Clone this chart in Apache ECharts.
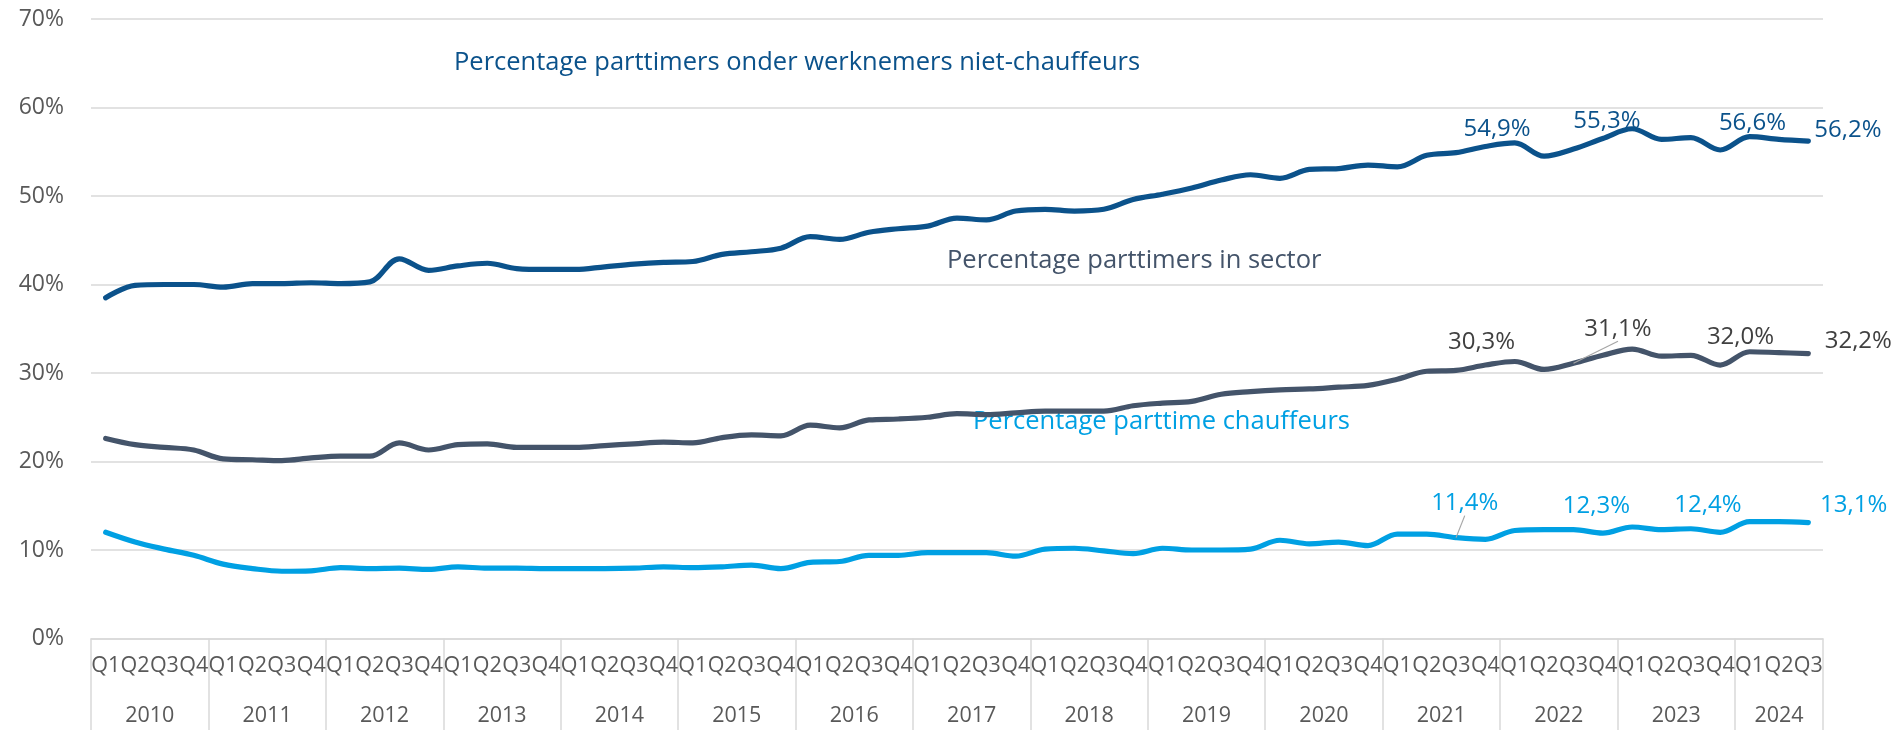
<!DOCTYPE html>
<html><head><meta charset="utf-8">
<script src="https://cdn.jsdelivr.net/npm/echarts@6/dist/echarts.min.js"></script>
<style>html,body{margin:0;padding:0;background:#fff}#c{width:1896px;height:730px}</style>
</head><body><div id="c"></div>
<script>
// ---------- DATA ----------
const years = ['2010','2011','2012','2013','2014','2015','2016','2017','2018','2019','2020','2021','2022','2023','2024'];
const quarterNames = ['Q1','Q2','Q3','Q4'];
const quartersPerYear = [4,4,4,4,4,4,4,4,4,4,4,4,4,4,3];
const yTicks = [0,10,20,30,40,50,60,70];

const nietChauffeurs = [
  38.5,39.9,40.0,40.0, 39.7,40.1,40.1,40.2, 40.1,40.3,42.9,41.6, 42.1,42.4,41.8,41.7,
  41.7,42.0,42.3,42.5, 42.6,43.4,43.7,44.1, 45.4,45.1,45.9,46.3, 46.6,47.5,47.3,48.3,
  48.5,48.3,48.5,49.6, 50.2,50.9,51.8,52.4, 52.0,53.0,53.1,53.5, 53.3,54.6,54.9,55.6,
  56.0,54.5,55.3,56.5, 57.6,56.4,56.6,55.2, 56.7,56.4,56.2
];
const sector = [
  22.6,21.9,21.6,21.3, 20.3,20.2,20.1,20.4, 20.6,20.6,22.1,21.3, 21.9,22.0,21.6,21.6,
  21.6,21.8,22.0,22.2, 22.1,22.7,23.0,22.9, 24.1,23.8,24.7,24.8, 25.0,25.4,25.3,25.5,
  25.7,25.7,25.7,26.3, 26.6,26.8,27.6,27.9, 28.1,28.2,28.4,28.6, 29.3,30.2,30.3,30.9,
  31.3,30.4,31.1,32.0, 32.7,31.9,32.0,30.9, 32.4,32.3,32.2
];
const chauffeurs = [
  12.0,10.9,10.1,9.4, 8.4,7.9,7.6,7.65, 8.0,7.9,7.95,7.8, 8.1,7.95,7.95,7.9,
  7.9,7.9,7.95,8.1, 8.0,8.1,8.3,7.9, 8.6,8.7,9.4,9.4, 9.7,9.7,9.7,9.3,
  10.1,10.2,9.9,9.6, 10.2,10.0,10.0,10.1, 11.1,10.7,10.9,10.5, 11.8,11.8,11.4,11.2,
  12.2,12.3,12.3,11.9, 12.6,12.3,12.4,12.0, 13.2,13.2,13.1
];
const labelIndices = [46, 50, 54, 58];
const annotations = [
  'Percentage parttimers onder werknemers niet-chauffeurs',
  'Percentage parttimers in sector',
  'Percentage parttime chauffeurs'
];

// ---------- BUILD ----------
const FONT = '"Open Sans", "Noto Sans", sans-serif';
const categories = [];
const yearBounds = [0];
const yearCenters = [];
let acc = 0;
quartersPerYear.forEach((n) => {
  for (let q = 0; q < n; q++) categories.push(quarterNames[q]);
  yearCenters.push(acc + n / 2);
  acc += n;
  yearBounds.push(acc);
});

const fmt = v => v.toFixed(1).replace('.', ',') + '%';

function buildData(values, offsets, labelColor, guideIdx) {
  return values.map((v, i) => {
    const k = labelIndices.indexOf(i);
    if (k < 0) return v;
    const item = {
      value: v,
      label: {
        show: true, position: 'inside', offset: offsets[k],
        formatter: p => fmt(p.value), color: labelColor,
        fontSize: 24, fontFamily: FONT, opacity: 1
      }
    };
    if (guideIdx === i) {
      item.labelLine = { show: true, lineStyle: { color: '#A6A6A6', width: 1.2 } };
    }
    return item;
  });
}

const C1 = '#0B528B', C2 = '#44546A', C3 = '#00A0E3';

function lineSeries(name, values, color, offsets, labelColor, guideIdx) {
  return {
    name, type: 'line', xAxisIndex: 0, yAxisIndex: 0,
    data: buildData(values, offsets, labelColor, guideIdx),
    smooth: 0.35,
    symbol: 'circle', symbolSize: 0.01, showSymbol: true, showAllSymbol: true,
    itemStyle: { color: color },
    lineStyle: { color: color, width: 5.2, cap: 'round', join: 'round' },
    label: { show: false },
    emphasis: { disabled: true },
    silent: true
  };
}

const chart = echarts.init(document.getElementById('c'), null, { renderer: 'canvas' });
chart.setOption({
  animation: false,
  backgroundColor: '#ffffff',
  grid: { left: 91, right: 73, top: 19, bottom: 91.5, containLabel: false },
  xAxis: [
    {
      type: 'category', data: categories, boundaryGap: true, position: 'bottom',
      axisLine: { show: true, lineStyle: { color: '#D9D9D9', width: 1.5 } },
      axisTick: { show: false },
      axisLabel: { interval: 0, margin: 16, fontSize: 21.5, color: '#595959', fontFamily: FONT },
      splitLine: { show: false }
    },
    {
      type: 'value', min: 0, max: categories.length, position: 'bottom',
      axisLine: { show: false },
      splitLine: { show: false },
      axisTick: { show: true, customValues: yearBounds, length: 92, lineStyle: { color: '#D9D9D9', width: 1.5 } },
      axisLabel: {
        customValues: yearCenters, margin: 66, fontSize: 21.5, color: '#595959', fontFamily: FONT,
        formatter: v => { const k = yearCenters.findIndex(c => Math.abs(c - v) < 1e-6); return k >= 0 ? years[k] : ''; }
      }
    }
  ],
  yAxis: {
    type: 'value', min: yTicks[0], max: yTicks[yTicks.length - 1], interval: yTicks[1] - yTicks[0],
    axisLine: { show: false }, axisTick: { show: false },
    axisLabel: { formatter: '{value}%', fontSize: 23, color: '#595959', fontFamily: FONT, margin: 27 },
    splitLine: { lineStyle: { color: '#D9D9D9', width: 1.5 } }
  },
  series: [
    lineSeries('niet-chauffeurs', nietChauffeurs, C1, [[41,-23],[33.5,-28],[61.6,-14],[39.6,-11.4]], C1, -1),
    lineSeries('sector', sector, C2, [[25.5,-28.4],[44.5,-34],[49.6,-18.4],[50,-12.6]], '#404040', 50),
    lineSeries('chauffeurs', chauffeurs, C3, [[8.7,-34],[23,-23],[17,-24],[45.4,-17.5]], C3, 46)
  ],
  graphic: [
    { type: 'text', left: 454, top: 50, style: { text: annotations[0], fill: C1, font: '25.5px ' + FONT } },
    { type: 'text', left: 947, top: 248, style: { text: annotations[1], fill: '#44546A', font: '25.5px ' + FONT } },
    { type: 'text', left: 973, top: 409, style: { text: annotations[2], fill: C3, font: '25.5px ' + FONT } }
  ]
});
</script>
</body></html>
